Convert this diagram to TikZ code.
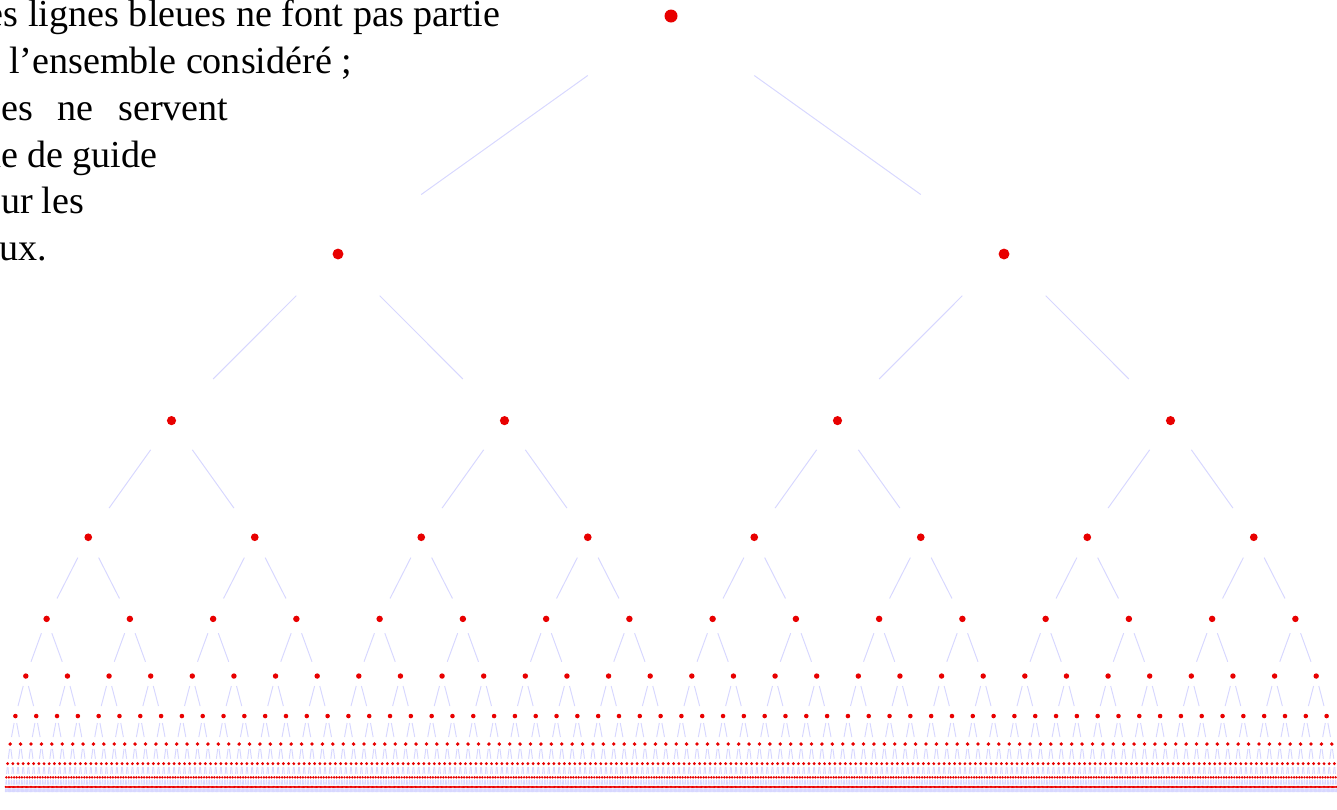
\documentclass[tikz,border=0pt]{standalone}
\usepackage{fontspec}
\setmainfont{Liberation Serif}
\usepackage{xcolor}
\usepackage{tikz}
\usetikzlibrary{calc}

\definecolor{dotred}{RGB}{232,0,0}
\definecolor{guideblue}{RGB}{215,215,255}
\newlength\unitpx
\setlength\unitpx{0.02cm}

\begin{document}
\begin{tikzpicture}[
    x=0.02cm, y=-0.02cm,
    dot/.style={
        circle, fill=dotred, draw=none,
        inner sep=0pt
    },
    guide/.style={draw=guideblue, line width=0.55pt},
    note/.style={
        font=\fontsize{21.7}{27}\selectfont,
        anchor=base west, inner sep=0pt
    },
]

\useasboundingbox (0,0) rectangle (1337,809);

% Texte (coupe par le bord gauche)
\node[note] (ligneA) at (-37,26)
    {\makebox[537\unitpx][s]{Les lignes bleues ne font pas partie}};
\node[note] (ligneB) at (-37,73)
    {\makebox[389\unitpx][s]{de l'ensemble considéré ;}};
\node[note] (ligneC) at (-37,120)
    {\makebox[265\unitpx][s]{elles ne servent}};
\node[note] (ligneD) at (-37,167)
    {\makebox[194\unitpx][s]{que de guide}};
\node[note] (ligneE) at (-37,213)
    {\makebox[121\unitpx][s]{pour les}};
\node[note] (ligneF) at (-37,260)
    {yeux.};

% Arbre : points rouges et guides bleus
\foreach \k in {0,...,11} {
    \pgfmathtruncatemacro\nmax{2^\k-1}
    \pgfmathtruncatemacro\kp{\k-1}
    \pgfmathsetmacro\yk{16+238*(1-0.7^\k)/0.3}
    \pgfmathsetmacro\dk{13*0.84^\k*0.02}
    \foreach \i in {0,...,\nmax} {
        \pgfmathsetmacro\xk{5+(\i+0.5)/2^\k*1332}
        \ifnum\k<11
            \node[dot, minimum size=\dk cm] (n-\k-\i) at (\xk,\yk) {};
        \else
            \coordinate (n-\k-\i) at (\xk,\yk);
        \fi
        \ifnum\k>0
            \pgfmathtruncatemacro\ip{floor(\i/2)}
            \draw[guide] ($(n-\kp-\ip)!0.25!(n-\k-\i)$) --
                ($(n-\kp-\ip)!0.75!(n-\k-\i)$);
        \fi
    }
}

\end{tikzpicture}
\end{document}
